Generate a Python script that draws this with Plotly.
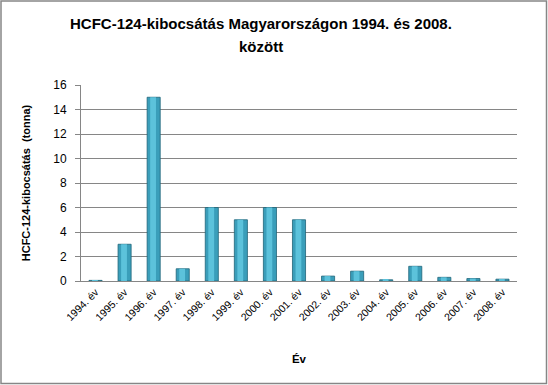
import plotly.graph_objects as go

years = ["1994. év", "1995. év", "1996. év", "1997. év", "1998. év", "1999. év", "2000. év",
         "2001. év", "2002. év", "2003. év", "2004. év", "2005. év", "2006. év", "2007. év", "2008. év"]
emissions = [0.05, 3, 15, 1, 6, 5, 6, 5, 0.4, 0.8, 0.1, 1.2, 0.3, 0.2, 0.15]
y_ticks = [0, 2, 4, 6, 8, 10, 12, 14, 16]
title_lines = ["HCFC-124-kibocsátás Magyarországon 1994. és 2008.", "között"]

W, H = 548, 385
L, R, T, B = 81, 31, 85, 104
pw, ph = W - L - R, H - T - B

fig = go.Figure()
fig.add_trace(go.Bar(x=years, y=emissions, width=0.45,
                     marker=dict(color="#3A9EBA", line=dict(color="#1F6478", width=0.8)),
                     hoverinfo="y", showlegend=False))
fig.add_trace(go.Bar(x=years, y=emissions, width=0.2, offset=-0.12,
                     marker=dict(color="#5CC2DB", line=dict(width=0)),
                     hoverinfo="skip", showlegend=False))

title_y_px = [23, 47]
annotations = [dict(text="<b>%s</b>" % t, xref="paper", yref="paper",
                    x=(261 - L) / pw, y=(H - B - yp) / ph, xanchor="center", yanchor="middle",
                    showarrow=False, font=dict(size=15, family="Liberation Sans, Arial, sans-serif"))
               for t, yp in zip(title_lines, title_y_px)]

fig.update_layout(
    width=W, height=H,
    margin=dict(l=L, r=R, t=T, b=B, autoexpand=False),
    paper_bgcolor="white", plot_bgcolor="white",
    barmode="overlay",
    font=dict(family="Liberation Sans, Arial, sans-serif", color="black"),
    annotations=annotations,
    xaxis=dict(tickangle=-45, tickfont=dict(size=10.5), showgrid=False, automargin=False,
               showline=True, linecolor="#868686", linewidth=1,
               ticks="", title=dict(text="<b>Év</b>", font=dict(size=11.5), standoff=32)),
    yaxis=dict(range=[0, 16], tickvals=y_ticks, tickfont=dict(size=12), automargin=False,
               showgrid=True, gridcolor="#868686", gridwidth=1,
               showline=True, linecolor="#868686", linewidth=1,
               ticks="outside", ticklen=5, tickcolor="#868686", ticklabelstandoff=6,
               zeroline=False,
               title=dict(text="<b>HCFC-124-kibocsátás  (tonna)</b>", font=dict(size=11), standoff=20)),
    shapes=[dict(type="rect", xref="paper", yref="paper",
                 x0=-(L - 1) / pw, x1=1 + (R - 1.5) / pw,
                 y0=-(B - 1.5) / ph, y1=1 + (T - 1) / ph,
                 line=dict(color="#868686", width=1.5), layer="below")],
)

fig.write_html("out.html", config={"displayModeBar": False},
               post_script="document.body.style.margin='0';")
